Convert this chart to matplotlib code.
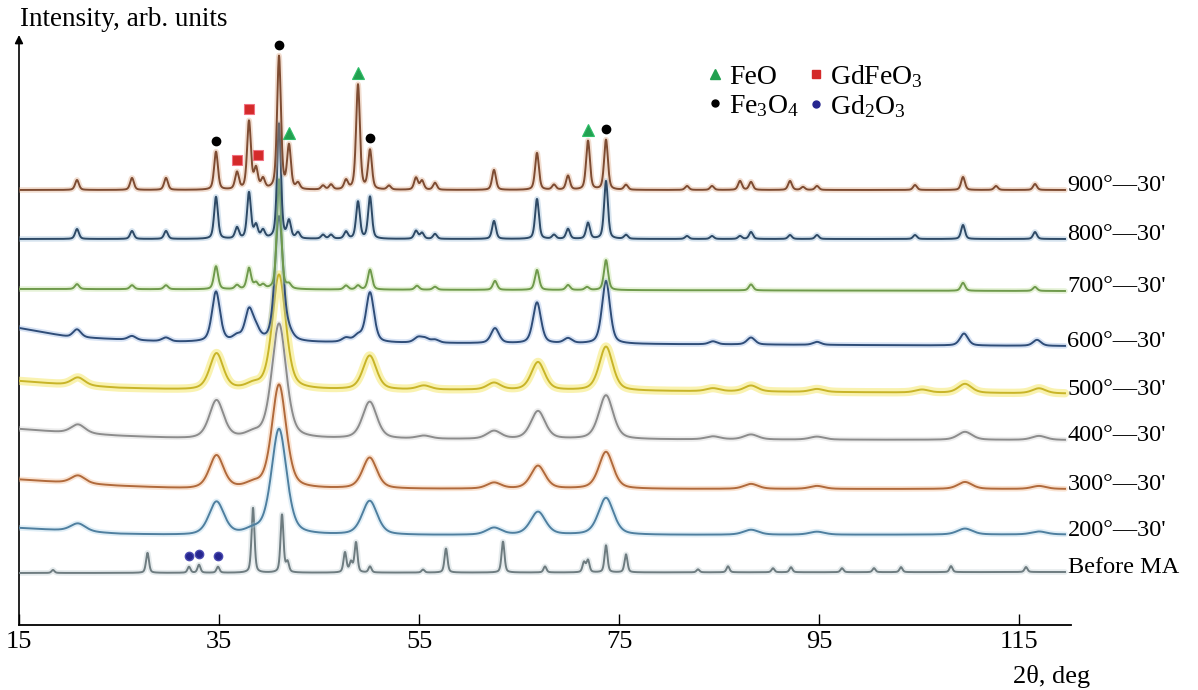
import numpy as np
import matplotlib
matplotlib.use("Agg")
import matplotlib.pyplot as plt
from matplotlib.lines import Line2D

plt.rcParams['font.family'] = ['Liberation Serif', 'DejaVu Serif']
plt.rcParams['mathtext.fontset'] = 'custom'
plt.rcParams['mathtext.rm'] = 'Liberation Serif'
plt.rcParams['mathtext.it'] = 'Liberation Serif:italic'

# scan range, deg
tt_start, tt_end = 15.0, 119.6

labels = ["900°—30'", "800°—30'", "700°—30'", "600°—30'", "500°—30'",
          "400°—30'", "300°—30'", "200°—30'", "Before MA"]
colors = ['#7e4c32', '#2e4a66', '#6f9a4c', '#2f4d78', '#c8b428',
          '#8c8c8c', '#b06a3c', '#4f7f9f', '#6e7c80']
halos = ['#d9a07a', '#8ab0d0', '#b8dc90', '#90b0e0', '#f5e870',
         '#cccccc', '#f0b080', '#a8d0e8', '#b8c8cc']

# baseline anchors (2theta, offset)
base_900 = ([15, 119.6], [435, 435])
base_800 = ([15, 119.6], [386, 386])
base_700 = ([15, 119.6], [336, 334])
base_600 = ([15, 20, 30, 119.6], [297, 288, 283, 279])
base_500 = ([15, 20, 25, 32, 60, 119.6], [244, 240, 237, 235, 235, 231.5])
base_400 = ([15, 20, 25, 32, 119.6], [196, 192, 189, 186, 185])
base_300 = ([15, 20, 25, 32, 119.6], [145.5, 142, 139, 136, 136])
base_200 = ([15, 20, 25, 32, 119.6], [97, 94, 91, 89.5, 90.5])
base_ma = ([15, 119.6], [52, 53])

# peaks: (2theta, height)
peaks_900 = [(20.8, 10), (26.3, 12), (29.7, 12), (34.7, 38), (36.8, 17), (38.0, 68),
             (38.7, 20), (39.4, 10), (41.0, 133), (42.0, 43), (42.9, 6), (45.4, 4),
             (46.2, 5), (47.7, 9), (48.9, 105), (50.1, 39), (52.0, 4), (54.7, 12),
             (55.3, 9), (56.6, 7), (62.5, 20), (66.8, 37), (68.5, 5), (69.9, 14),
             (71.9, 49), (73.7, 50), (75.7, 5), (81.8, 4), (84.3, 4), (87.1, 9),
             (88.2, 8), (92.1, 9), (93.4, 3), (94.8, 4), (104.6, 5), (109.4, 13),
             (112.7, 4), (116.6, 6)]
peaks_800 = [(20.8, 10), (26.3, 8), (29.7, 8), (34.7, 42), (36.8, 11), (38.0, 46),
             (38.7, 13), (39.4, 8), (41.0, 115), (42.0, 17), (42.9, 6), (45.4, 4),
             (46.2, 4), (47.7, 7), (48.9, 37), (50.1, 42), (54.7, 8), (55.3, 6),
             (56.6, 5), (62.5, 18), (66.8, 40), (68.5, 4), (69.9, 10), (71.9, 16),
             (73.7, 58), (75.7, 4), (81.8, 3), (84.3, 3), (87.1, 3), (88.2, 7),
             (92.1, 4), (94.8, 4), (104.6, 4), (109.4, 14), (116.6, 7)]
peaks_700 = [(20.8, 5), (26.3, 4), (29.7, 4), (34.7, 23), (36.8, 4), (38.0, 21),
             (38.7, 6), (39.4, 4), (41.0, 110), (42.0, 4), (47.7, 4), (48.9, 4),
             (50.1, 20), (54.8, 4), (56.6, 3), (62.6, 9), (66.8, 20), (69.9, 5),
             (71.8, 3), (73.7, 30), (88.2, 6), (109.4, 8), (116.6, 4)]
peaks_600 = [(20.8, 8), (26.3, 4), (29.7, 4), (34.7, 50), (36.8, 5), (38.0, 30),
             (38.7, 10), (41.0, 125), (42.0, 6), (47.7, 4), (48.9, 6), (50.1, 50),
             (54.9, 5), (55.6, 4), (56.6, 3), (62.6, 15), (66.8, 41), (69.9, 5),
             (73.7, 63), (84.4, 3), (88.2, 7), (94.8, 3), (109.5, 12), (116.8, 6)]
peaks_500 = [(20.9, 8), (34.75, 36), (38.4, 4), (41.0, 115), (50.07, 34), (55.5, 4),
             (62.5, 7), (66.9, 28), (73.7, 44), (84.4, 3), (88.2, 6), (94.8, 3),
             (105.3, 3), (109.6, 9), (117.0, 5)]
peaks_400 = [(20.9, 9), (34.75, 38), (38.4, 4), (41.0, 115), (50.07, 37), (55.5, 3),
             (62.5, 8), (66.9, 28), (73.7, 44), (84.4, 3), (88.2, 5), (94.8, 3),
             (109.6, 8), (117.0, 4)]
peaks_300 = [(20.9, 8), (34.75, 33), (38.4, 4), (41.0, 104), (50.07, 31), (62.5, 6),
             (66.9, 23), (73.7, 37), (88.2, 5), (94.8, 3), (109.6, 7), (117.0, 3)]
peaks_200 = [(20.9, 8), (34.75, 33), (38.4, 4), (41.0, 106), (50.07, 34), (62.5, 7),
             (66.9, 23), (73.7, 37), (88.2, 5), (94.8, 3), (109.6, 6), (117.0, 3)]
peaks_ma = [(18.4, 3), (27.85, 20), (32.0, 6), (33.0, 8), (34.9, 6), (38.4, 65),
            (41.3, 58), (41.85, 10), (47.6, 20), (48.2, 10), (48.7, 30), (50.1, 6),
            (55.4, 3), (57.7, 24), (63.4, 31), (67.6, 6), (71.5, 10), (71.9, 12),
            (73.7, 27), (75.7, 18), (82.9, 3), (85.9, 6), (90.4, 4), (92.2, 5),
            (97.3, 4), (100.5, 4), (103.2, 5), (108.2, 6), (115.7, 5)]

# peak widths (FWHM, deg)
fwhm = [0.45, 0.45, 0.5, 0.95, 1.6, 1.7, 1.7, 1.8, 0.35]

bases = [base_900, base_800, base_700, base_600, base_500, base_400, base_300, base_200, base_ma]
peaks = [peaks_900, peaks_800, peaks_700, peaks_600, peaks_500, peaks_400, peaks_300, peaks_200, peaks_ma]

# phase marks: (pattern index, 2theta)
feo_marks = [(0, 42.0), (0, 48.9), (0, 71.9)]
gdfeo3_marks = [(0, 36.8), (0, 38.0), (0, 38.9)]
fe3o4_marks = [(0, 34.7), (0, 41.0), (0, 50.1), (0, 73.7)]
gd2o3_marks = [(8, 32.0), (8, 33.0), (8, 34.9)]


def pv(x, c, h, w):
    g = np.exp(-4 * np.log(2) * ((x - c) / w) ** 2)
    l = 1 / (1 + 4 * ((x - c) / w) ** 2)
    return h * (0.55 * g + 0.45 * l)


x = np.linspace(tt_start, tt_end, 4000)
curves = []
for (bx, by), pk, w in zip(bases, peaks, fwhm):
    y = np.interp(x, bx, by)
    for c, h in pk:
        y = y + pv(x, c, h, w)
    curves.append(y)

fig = plt.figure(figsize=(11.98, 6.9), dpi=100)
ax = fig.add_axes([19 / 1198, 65 / 690, 1052 / 1198, 590 / 690])

n = len(curves)
for i in range(n - 1, -1, -1):
    z = 2 + (n - i)
    ax.plot(x, curves[i], color=halos[i], lw=4 if i != 4 else 6, alpha=0.35 if i != 4 else 0.55,
            solid_capstyle='round', zorder=z)
    ax.plot(x, curves[i], color=colors[i], lw=1.4, zorder=z + 0.1)
    ax.text(tt_end + 0.25, curves[i][-1] + 4, labels[i], fontsize=17.5,
            ha='left', va='center', clip_on=False)


def mark(marks, **kw):
    for idx, tt in marks:
        win = (x > tt - 0.35) & (x < tt + 0.35)
        ax.plot(tt, curves[idx][win].max() + 11, linestyle='none', zorder=20,
                clip_on=False, **kw)


mark(feo_marks, marker='^', ms=8, color='#22a050', mec='#2fbf6a', mew=0.8)
mark(gdfeo3_marks, marker='s', ms=6.5, color='#d42a2a', mec='#f07080', mew=0.8)
mark(fe3o4_marks, marker='o', ms=6, color='black')
mark(gd2o3_marks, marker='o', ms=6, color='#26268f', mec='#4a4ab0')

handles = [Line2D([], [], ls='none', marker='^', ms=7, color='#22a050'),
           Line2D([], [], ls='none', marker='o', ms=5, color='black'),
           Line2D([], [], ls='none', marker='s', ms=6, color='#d42a2a'),
           Line2D([], [], ls='none', marker='o', ms=5, color='#26268f')]
ax.legend(handles, ['FeO', 'Fe$_3$O$_4$', 'GdFeO$_3$', 'Gd$_2$O$_3$'], ncol=2,
          frameon=False, fontsize=20, loc='upper left', bbox_to_anchor=(0.654, 0.953),
          handlelength=0.6, handletextpad=0.2, columnspacing=0.3, labelspacing=0.12,
          borderpad=0, borderaxespad=0)

ax.set_xlim(15, 120.2)
ax.set_ylim(0, 590)
ax.set_xticks([15, 35, 55, 75, 95, 115])
ax.set_yticks([])
ax.tick_params(axis='x', direction='in', length=8, width=1, labelsize=19, pad=4)
for s in ['top', 'right', 'left']:
    ax.spines[s].set_visible(False)
ax.spines['bottom'].set_linewidth(1.3)
ax.annotate('', xy=(0, 1.0), xytext=(0, 0), xycoords='axes fraction',
            arrowprops=dict(arrowstyle='-|>', color='black', lw=1.2, mutation_scale=12,
                            shrinkA=0, shrinkB=0))

fig.text(20 / 1198, 1 - 20 / 690, 'Intensity, arb. units', fontsize=19.5, ha='left', va='center')
fig.text(1052 / 1198, 1 - 676 / 690, '2θ, deg', fontsize=19, ha='center', va='center')

fig.savefig('out.png', dpi=100)
